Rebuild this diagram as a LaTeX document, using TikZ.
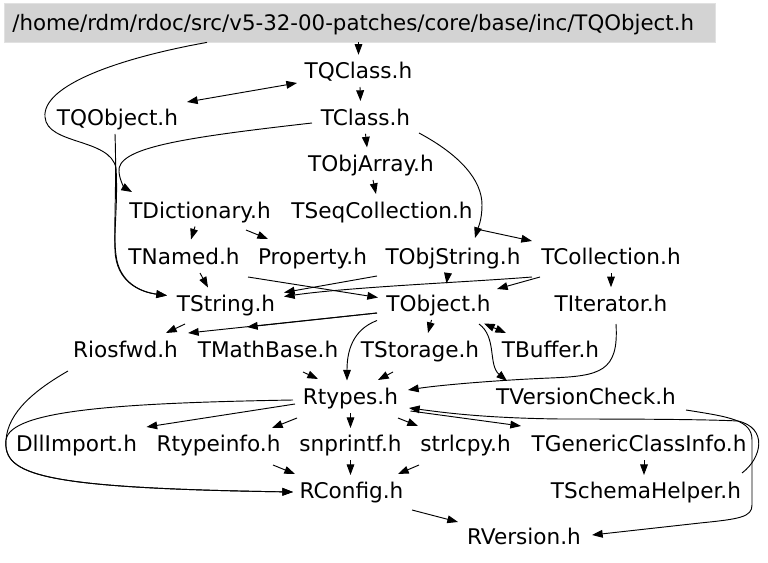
\documentclass[tikz,border=0pt]{standalone}
\usepackage{fontspec}
\setmainfont{DejaVu Sans}
\usetikzlibrary{arrows.meta,calc}
\definecolor{rootfill}{RGB}{211,211,211}
\definecolor{rootline}{RGB}{225,225,225}
\tikzset{
  nd/.style={font=\fontsize{16.2pt}{19pt}\selectfont, inner xsep=6pt, inner ysep=0pt,
    minimum height=24pt, text height=14pt, text depth=2.2pt},
  rootbox/.style={nd, font=\fontsize{16pt}{19pt}\selectfont, fill=rootfill, draw=rootline, line width=0.6pt, minimum width=533.25pt,
    minimum height=29.25pt, anchor=west},
  dep/.style={draw=black, line width=0.7pt, -{Triangle[length=8pt,width=5.8pt]}},
  dep2/.style={draw=black, line width=0.7pt, {Triangle[length=8pt,width=5.8pt]}-{Triangle[length=8pt,width=5.8pt]}}
}
\begin{document}
\begin{tikzpicture}[x=0.75pt,y=-0.75pt]
\useasboundingbox (0,0) rectangle (768,563);
\node[rootbox] (root) at (4,22.5) {\makebox[521.25pt][l]{/home/rdm/rdoc/src/v5-32-00-patches/core/base/inc/TQObject.h}};
\node[nd] (tqclass) at (358.5,71) {TQClass.h};
\node[nd] (tqobject) at (117.5,117.5) {TQObject.h};
\node[nd] (tclass) at (365.5,117.5) {TClass.h};
\node[nd] (tobjarray) at (371,164) {TObjArray.h};
\node[nd] (tdictionary) at (200,210.5) {TDictionary.h};
\node[nd] (tseqcoll) at (382,210.5) {TSeqCollection.h};
\node[nd] (tnamed) at (184,257) {TNamed.h};
\node[nd] (property) at (312.5,257) {Property.h};
\node[nd] (tobjstring) at (453,257) {TObjString.h};
\node[nd] (tcollection) at (611,257) {TCollection.h};
\node[nd] (tstring) at (226,303.5) {TString.h};
\node[nd] (tobject) at (438.5,303.5) {TObject.h};
\node[nd] (titerator) at (611,303.5) {TIterator.h};
\node[nd] (riosfwd) at (125.5,350) {Riosfwd.h};
\node[nd] (tmathbase) at (268,350) {TMathBase.h};
\node[nd] (tstorage) at (420,350) {TStorage.h};
\node[nd] (tbuffer) at (550.5,350) {TBuffer.h};
\node[nd] (rtypes) at (350.5,397) {Rtypes.h};
\node[nd] (tversioncheck) at (586,397) {TVersionCheck.h};
\node[nd] (dllimport) at (76.5,444) {DllImport.h};
\node[nd] (rtypeinfo) at (218.5,444) {Rtypeinfo.h};
\node[nd] (snprintf) at (350.5,444) {snprintf.h};
\node[nd] (strlcpy) at (465.5,444) {strlcpy.h};
\node[nd] (tgenericclassinfo) at (639,444) {TGenericClassInfo.h};
\node[nd] (rconfig) at (351.5,491) {RConfig.h};
\node[nd] (tschemahelper) at (646,491) {TSchemaHelper.h};
\node[nd] (rversion) at (524,537) {RVersion.h};

% edges
\draw[dep] (tqclass |- root.south) -- (tqclass.north);
\draw[dep2] ($(tqclass)+(-61.5,12)$) -- ($(tqobject)+(69.5,-15.5)$);
\draw[dep] ($(tqclass)+(1.5,16)$) -- ($(tclass)+(-5,-16.5)$);
\draw[dep] ($(root.south west)+(203,0)$) .. controls (120,58) and (42,85) .. (45,117)
  .. controls (47,145) and (110,138) .. (116,168)
  .. controls (118,200) and (114,230) .. (115,250)
  .. controls (116,282) and (140,292) .. ($(tstring)+(-59,-8)$);
\draw[dep] ($(tqobject)+(-2.5,16.5)$) .. controls (117,190) and (113,235) .. (116,255)
  .. controls (119,282) and (140,292) .. ($(tstring)+(-59,-8)$);
\draw[dep] ($(tclass)+(-53.5,5.5)$) .. controls (180,138) and (116,148) .. (119,172)
  .. controls (120,182) and (125,188) .. ($(tdictionary)+(-68,-18.5)$);
\draw[dep] (tclass.south) -- ($(tobjarray)+(-4,-16.5)$);
\draw[dep] ($(tclass)+(53.5,15.5)$) .. controls (460,155) and (482,180) .. (482,205)
  .. controls (482,220) and (478,228) .. ($(tobjstring)+(22,-19)$);
\draw[dep] ($(tobjarray)+(2,16)$) -- ($(tseqcoll)+(-6,-16.5)$);
\draw[dep] ($(tseqcoll)+(99,19.5)$) -- ($(tcollection)+(-79,-16)$);
\draw[dep] ($(tdictionary)+(-5,16)$) -- ($(tnamed)+(7,-17.5)$);
\draw[dep] ($(tdictionary)+(46,19.5)$) -- ($(property)+(-44.5,-18)$);
\draw[dep] ($(tnamed)+(16,16)$) -- ($(tstring)+(-18,-16)$);
\draw[dep] ($(tnamed)+(64,20)$) -- ($(tobject)+(-60.5,-6)$);
\draw[dep] ($(tobjstring)+(-76,19)$) -- ($(tstring)+(58,-11)$);
\draw[dep] ($(tcollection)+(-79,20)$) .. controls (470,282) and (350,287) .. ($(tstring)+(58,-7)$);
\draw[dep] ($(tobjstring)+(-5,16)$) -- ($(tobject)+(8,-20)$);
\draw[dep] ($(tcollection)+(-71,20)$) -- ($(tobject)+(58.5,-14.5)$);
\draw[dep] (tcollection.south) -- (titerator.north);
\draw[dep] ($(titerator)+(5,20.5)$) .. controls (619,372) and (600,376) .. (550,378)
  .. controls (500,380) and (440,385) .. ($(rtypes)+(57.5,-7)$);
\draw[dep] ($(tobject)+(-61.5,9.5)$) -- ($(riosfwd)+(62.5,-17)$);
\draw[dep] ($(tobject)+(-61.5,9.5)$) -- ($(tmathbase)+(-21,-23)$);
\draw[dep] ($(tstring)+(-41,20.5)$) -- ($(riosfwd)+(40.5,-17)$);
\draw[dep] ($(tobject)+(-7,16.5)$) -- ($(tstorage)+(8,-17)$);
\draw[dep] ($(tobject)+(-61.5,17)$) .. controls (352,330) and (347,352) .. ($(rtypes)+(-3.5,-16.5)$);
\draw[dep2] ($(tobject)+(45.5,20)$) -- ($(tbuffer)+(-44.5,-17)$);
\draw[dep] ($(tobject)+(40.5,20.5)$) .. controls (497,337) and (488,365) .. ($(tversioncheck)+(-79,-16)$);
\draw[dep] ($(tmathbase)+(35,22)$) -- ($(rtypes)+(-32.5,-18)$);
\draw[dep] ($(tstorage)+(-27,22)$) -- ($(rtypes)+(27.5,-17)$);
\draw[dep] ($(tversioncheck)+(100,13)$) .. controls (730,417) and (752,420) .. (752,440)
  -- (752,505) .. controls (752,517) and (740,519) .. (700,523) -- ($(rversion)+(68,-2)$);
\draw[dep] ($(tschemahelper)+(96,-18)$) .. controls (762,458) and (768,428) .. (738,421)
  .. controls (700,419) and (600,419) .. (560,419)
  .. controls (480,418) and (440,412) .. ($(rtypes)+(58.5,11)$);
\draw[dep] ($(rtypes)+(60,14)$) -- ($(tgenericclassinfo)+(-118,-18)$);
\draw[dep] ($(rtypes)+(-55.5,7)$) -- ($(dllimport)+(70,-17)$);
\draw[dep] ($(rtypes)+(-57.5,3)$) .. controls (120,403) and (10,410) .. (6,440)
  .. controls (3,475) and (40,488) .. ($(rconfig)+(-58.5,1)$);
\draw[dep] ($(riosfwd)+(-57.5,21)$) .. controls (35,390) and (8,412) .. (6,440)
  .. controls (3,475) and (40,488) .. ($(rconfig)+(-58.5,1)$);
\draw[dep] ($(rtypes)+(-53.5,21)$) -- ($(rtypeinfo)+(53.5,-16)$);
\draw[dep] ($(rtypes)+(0,16)$) -- ($(snprintf)+(0,-16)$);
\draw[dep] ($(rtypes)+(47.5,21)$) -- ($(strlcpy)+(-47.5,-18)$);
\draw[dep] ($(rtypeinfo)+(54.5,21)$) -- ($(rconfig)+(-56.5,-17)$);
\draw[dep] ($(snprintf)+(0,16)$) -- ($(rconfig)+(-1,-16)$);
\draw[dep] ($(strlcpy)+(-46.5,21)$) -- ($(rconfig)+(46.5,-17)$);
\draw[dep] ($(tgenericclassinfo)+(5,16)$) -- ($(tschemahelper)+(-2,-16)$);
\draw[dep] ($(rconfig)+(60.5,19)$) -- ($(rversion)+(-66,-15)$);
\end{tikzpicture}
\end{document}
